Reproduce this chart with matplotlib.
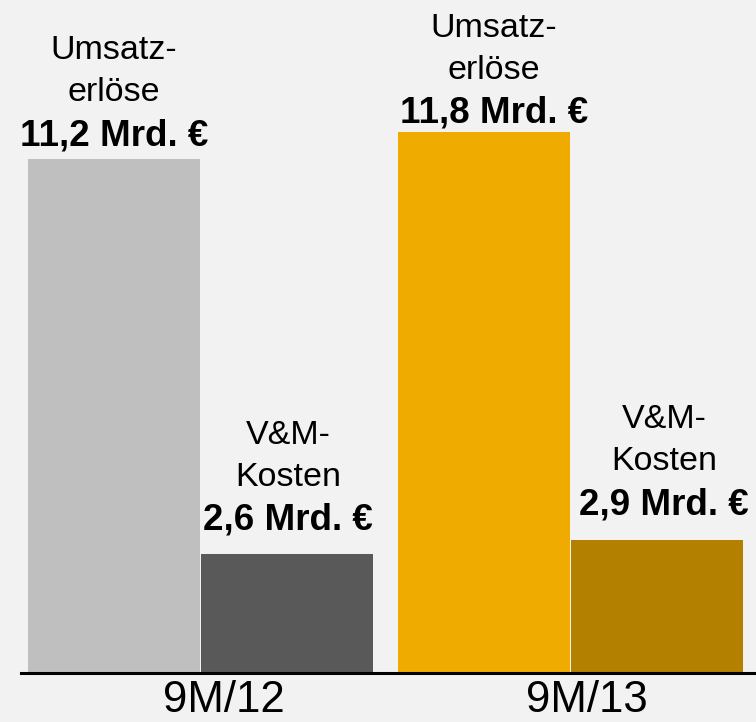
import matplotlib.pyplot as plt

# data
periods = ["9M/12", "9M/13"]
series_names = ["Umsatz-\nerlöse", "V&M-\nKosten"]
revenue = [11.2, 11.8]
sales_costs = [2.6, 2.9]
value_labels = [["11,2 Mrd. €", "2,6 Mrd. €"], ["11,8 Mrd. €", "2,9 Mrd. €"]]

# colours per period: (revenue, costs)
bar_colors = [["#bfbfbf", "#595959"], ["#f0ab00", "#b38000"]]
bg = "#f2f2f2"

plt.rcParams["font.family"] = ["Liberation Sans", "DejaVu Sans"]

fig = plt.figure(figsize=(7.56, 7.22), dpi=100, facecolor=bg)
ax = fig.add_axes([21 / 756, 49 / 722, 1 - 21 / 756, 1 - 49 / 722])
ax.set_facecolor(bg)

width = 0.465
offset = 0.2345
# gap (px) between top of bar and baseline of the bold value label
label_pad = [[14, 24], [9, 26]]
# horizontal nudge (px) of the label block
label_dx = [[0, 1], [10, 7]]
px = 0.72  # points per pixel at 100 dpi

for i, period in enumerate(periods):
    vals = [revenue[i], sales_costs[i]]
    for j, v in enumerate(vals):
        x = i + (-offset if j == 0 else offset)
        ax.bar(x, v, width=width, color=bar_colors[i][j], edgecolor="none", zorder=2)
        base = label_pad[i][j] * px
        dx = label_dx[i][j] * px
        ax.annotate(value_labels[i][j], xy=(x, v), xytext=(dx, base),
                    textcoords="offset points", ha="center", va="baseline",
                    fontsize=26.5, fontweight="bold", color="black")
        first, second = series_names[j].split("\n")
        ax.annotate(second, xy=(x, v), xytext=(dx, base + 44 * px),
                    textcoords="offset points", ha="center", va="baseline",
                    fontsize=24.5, color="black")
        ax.annotate(first, xy=(x, v), xytext=(dx, base + 86 * px),
                    textcoords="offset points", ha="center", va="baseline",
                    fontsize=24.5, color="black")

ax.set_xlim((21 - 200.5) / 370, (756 - 200.5) / 370)
ax.set_ylim(0, 673 / 45.85)

ax.set_xticks([0.062, 1.043])
ax.set_xticklabels(periods, fontsize=31.5)
ax.tick_params(axis="x", length=0, pad=5)
ax.set_yticks([])

for s in ["top", "right", "left"]:
    ax.spines[s].set_visible(False)
ax.spines["bottom"].set_linewidth(2.2)
ax.spines["bottom"].set_color("black")
ax.spines["bottom"].set_zorder(3)

fig.savefig("out.png", dpi=100, facecolor=bg)
